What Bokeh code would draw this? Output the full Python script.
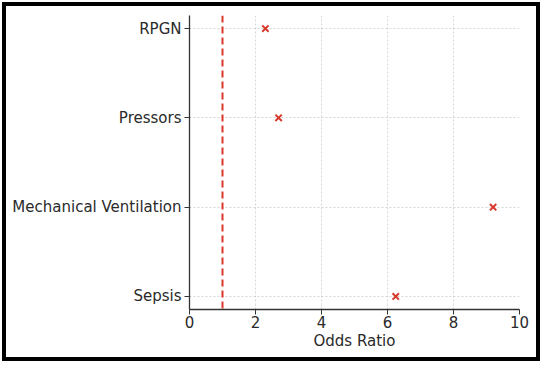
from bokeh.plotting import figure
from bokeh.models import Span, FixedTicker, Range1d
from bokeh.embed import file_html
from bokeh.resources import INLINE

categories = ["Sepsis", "Mechanical Ventilation", "Pressors", "RPGN"]
odds_ratios = [6.25, 9.2, 2.7, 2.3]
x_ticks = [0, 2, 4, 6, 8, 10]
reference_or = 1

ypos = list(range(len(categories)))

p = figure(width=538, height=359, output_backend="svg", toolbar_location=None,
           x_range=Range1d(0, 10), y_range=Range1d(-0.146, 3.146),
           min_border_left=183, min_border_right=25, min_border_top=9, min_border_bottom=56)
p.styles = {"border": "4px solid black", "margin": "2px 0px 0px 2px"}
p.outline_line_color = None
p.background_fill_color = "white"
p.border_fill_color = "white"

p.scatter(odds_ratios, ypos, marker="x", size=9, line_width=2, color="#d8392b")
p.add_layout(Span(location=reference_or, dimension="height", line_color="#d8392b",
                  line_width=2, line_dash="7 4"))

p.xaxis.ticker = FixedTicker(ticks=x_ticks)
p.yaxis.ticker = FixedTicker(ticks=ypos)
p.yaxis.major_label_overrides = {i: c for i, c in enumerate(categories)}
p.xaxis.axis_label = "Odds Ratio"

for ax in (p.xaxis, p.yaxis):
    ax.axis_line_color = "#333333"
    ax.axis_line_width = 1.3
    ax.major_tick_line_color = "#333333"
    ax.major_tick_in = 0
    ax.major_tick_out = 5
    ax.minor_tick_line_color = None
    ax.major_label_text_font = "DejaVu Sans"
    ax.major_label_text_font_size = "15px"
    ax.major_label_text_color = "#2a2a2a"
    ax.major_label_standoff = 3
    ax.axis_label_text_font = "DejaVu Sans"
    ax.axis_label_text_font_size = "15px"
    ax.axis_label_text_font_style = "normal"
    ax.axis_label_text_color = "#2a2a2a"
p.xaxis.major_label_standoff = 1
p.xaxis.axis_label_standoff = 1

for g in (p.xgrid, p.ygrid):
    g.grid_line_color = "#cccccc"
    g.grid_line_dash = "2 2"
    g.grid_line_width = 0.8
p.xgrid.ticker = FixedTicker(ticks=x_ticks)
p.ygrid.ticker = FixedTicker(ticks=ypos)

open("out.html", "w").write(file_html(p, INLINE))
